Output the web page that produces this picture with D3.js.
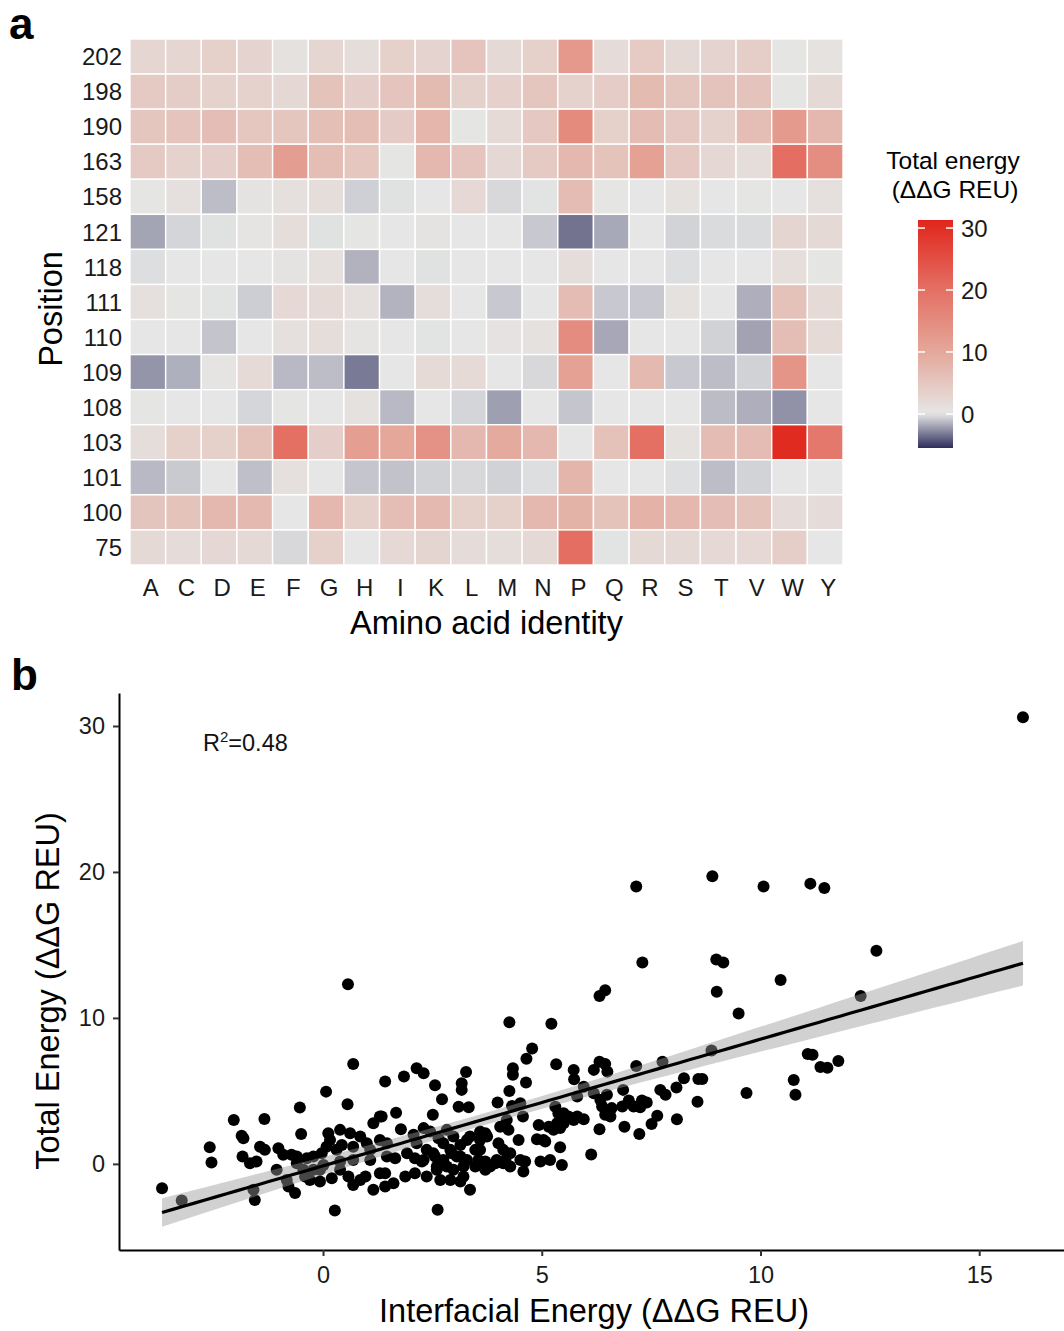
<!DOCTYPE html>
<html lang="en">
<head>
<meta charset="UTF-8">
<title>Total energy heatmap and energy correlation</title>
<script src="https://d3js.org/d3.v7.min.js"></script>
<style>
    body { margin: 0; background: #fff; }
    svg { display: block; font-family: "Liberation Sans", Arial, Helvetica, sans-serif; }
    .tick-label { fill: #1a1a1a; }
    .panel-label { font-weight: bold; font-size: 44px; fill: #000; }
</style>
</head>
<body>
<div id="chart"></div>
<script>
// ---- panel a: heatmap data (total energy, ddG REU) ----
const aminoAcids = ["A","C","D","E","F","G","H","I","K","L","M","N","P","Q","R","S","T","V","W","Y"];
const positions = ["202","198","190","163","158","121","118","111","110","109","108","103","101","100","75"];

const energy202 = [2.6, 2.6, 3.6, 3.0, 0.8, 2.6, 1.5, 3.6, 3.0, 5.5, 2.1, 3.6, 12.7, 1.6, 4.4, 2.1, 3.0, 3.9, 0.1, 0.7];
const energy198 = [4.6, 4.0, 3.2, 3.2, 2.5, 5.7, 3.8, 5.5, 7.0, 3.4, 3.5, 5.2, 3.3, 4.2, 7.0, 5.2, 5.6, 5.6, 0.1, 2.1];
const energy190 = [5.2, 5.5, 6.4, 5.0, 5.2, 6.3, 6.5, 4.3, 7.7, 0.1, 2.0, 4.8, 15.2, 3.6, 6.7, 4.8, 3.3, 6.6, 12.5, 7.4];
const energy163 = [4.5, 3.2, 3.8, 6.5, 11.8, 6.5, 5.0, 0.1, 7.5, 5.5, 2.5, 4.6, 7.5, 5.7, 11.2, 4.8, 2.5, 1.5, 20.3, 14.7];
const energy158 = [0.2, 1.1, -1.2, 0.5, 1.0, 1.5, -0.65, -0.15, 0.0, 2.2, -0.4, -0.1, 6.7, 0.2, 0.0, 0.8, 0.0, 0.2, 0.0, 1.0];
const energy121 = [-1.95, -0.5, -0.15, 0.3, 1.5, -0.15, 0.2, 0.0, 0.5, 0.0, 0.0, -0.86, -3.4, -1.8, 0.0, -0.56, -0.33, -0.33, 2.8, 2.1];
const energy118 = [-0.25, 0.0, 0.0, 0.0, 0.5, 1.0, -1.55, 0.0, -0.15, 0.0, 0.0, 0.0, 1.5, 0.0, 0.0, -0.25, 0.0, 0.0, 1.3, 0.2];
const energy111 = [1.0, 0.2, -0.1, -0.7, 2.2, 2.0, 1.0, -1.5, 1.5, 0.0, -0.85, 0.0, 6.7, -0.85, -0.85, 0.8, 0.0, -1.65, 5.9, 2.0];
const energy110 = [0.0, 0.0, -1.0, 0.0, 1.0, 1.5, 0.3, 0.0, -0.1, 0.0, 0.6, 0.8, 15.0, -1.85, 0.0, 0.0, -0.6, -2.0, 6.6, 2.0];
const energy109 = [-2.4, -1.6, 0.3, 2.0, -1.33, -1.2, -3.2, 0.0, 2.0, 2.0, 0.0, -0.4, 11.2, 0.0, 7.2, -0.86, -1.2, -0.6, 13.4, 0.0];
const energy108 = [0.1, 0.0, 0.0, -0.47, 0.2, 0.0, 0.8, -1.33, 0.0, -0.5, -2.1, 0.0, -0.95, 0.0, 0.0, 0.0, -1.25, -1.65, -2.5, 0.0];
const energy103 = [1.5, 3.6, 3.6, 5.9, 20.0, 3.8, 11.6, 10.2, 13.9, 7.5, 9.7, 7.4, 0.0, 6.0, 20.2, 0.8, 6.7, 6.7, 30.5, 18.5];
const energy101 = [-1.33, -0.83, 0.0, -1.15, 1.0, 0.0, -0.95, -1.05, -0.6, -0.4, -0.6, -0.25, 7.9, 0.0, 0.0, -0.2, -1.2, -0.56, 0.0, 0.0];
const energy100 = [5.4, 5.7, 7.4, 7.2, 0.0, 7.4, 3.6, 6.6, 7.2, 3.6, 3.6, 7.4, 8.2, 5.7, 8.4, 7.4, 6.4, 5.7, 1.6, 1.7];
const energy75  = [2.1, 1.6, 2.3, 2.1, -0.4, 3.6, 0.0, 2.2, 2.8, 1.6, 1.5, 2.1, 20.3, -0.1, 2.1, 2.1, 2.2, 2.2, 3.9, 0.0];

const energyRows = [energy202, energy198, energy190, energy163, energy158, energy121, energy118,
                    energy111, energy110, energy109, energy108, energy103, energy101, energy100, energy75];

// colour bar limits and tick values
const legendLimits = [-5.5, 31.3];
const legendTicks = [0, 10, 20, 30];

// ---- panel b: scatter data ----
const interfacialEnergy = [
  16.0, 7.16, 8.9, 10.07, 11.14, 11.46, 12.65, 7.3, 8.99, 9.15, 10.46, 0.57, 9.0, 12.29, 6.32, 6.45, 9.5, 5.22, 4.26, 4.78,
  4.65, 0.69, 8.88, 11.08, 11.19, 11.37, 11.53, 11.78, 8.25, 8.58, 8.67, 10.76, 10.8, 9.68, 8.56, 5.33, 4.34, 4.34, 4.64, 5.73,
  5.74, 6.19, 6.32, 6.45, 6.5, 7.16, 7.76, 8.08, 8.09, 7.71, 7.83, 7.64, 7.51, 7.23, 6.89, 6.32, 6.13, 6.84, 6.99, 7.1,
  7.25, 7.29, 7.4, 6.86, 6.19, 6.34, 6.49, 6.6, 6.38, 6.45, 6.57, 5.96, 5.81, 5.5, 5.61, 5.73, 5.81, 5.96, 5.31, 5.38,
  5.35, 5.42, 5.5, 4.93, 5.04, 5.16, 5.27, 5.42, 5.46, 4.97, 5.19, 4.89, 5.08, 4.24, 4.47, 4.28, 4.51, 4.62, 4.58, 3.99,
  4.26, 4.32, 4.57, 4.51, 4.2, 4.05, 4.01, 4.12, 3.71, 3.59, 3.48, 3.55, 3.67, 3.36, 3.1, 3.33, 3.17, 3.17, 3.27, 2.72,
  2.56, 2.51, 2.3, 2.83, 2.98, 3.14, 3.29, 2.91, 3.06, 3.29, 3.21, 2.98, 2.75, 2.6, 2.52, 2.37, 2.3, 2.68, 2.91, 3.21,
  3.14, 3.71, 3.82, 3.97, 4.12, 4.28, 1.42, 1.85, 2.14, 1.67, 1.34, 1.78, 2.07, 2.3, 2.45, 2.14, 2.64, 2.75, 1.46, 1.65,
  1.92, 2.1, 2.26, 2.56, 2.6, 2.83, 1.42, 1.61, 1.88, 2.1, 2.37, 2.62, 3.48, 3.71, 3.94, 4.17, 3.59, 3.36, 3.59, 3.75,
  2.94, 3.14, -3.68, -3.23, -2.59, -2.55, -2.04, -1.86, -1.82, -1.84, -1.67, -1.52, -1.44, -1.33, -1.34, -1.59, -1.56, -1.02, -0.91, -1.06,
  -0.83, -0.79, -0.64, -0.72, -0.6, -0.37, -0.22, -0.53, -0.5, 0.07, 0.12, 0.16, 0.08, -0.03, 0.31, 0.43, 0.62, 0.69, 0.85, 1.0,
  1.08, 0.56, 1.15, 1.3, -0.22, -0.07, -0.3, -0.07, 0.2, 0.39, 0.58, 0.69, 0.85, 0.97, 1.15, 1.42, 1.3, 0.27, -0.6, -0.45,
  -0.41, 0.01, 0.39, 0.69, 1.08, 0.39, 1.3, 1.46
];
const totalEnergy = [
  30.6, 19.0, 19.7, 19.0, 19.2, 18.9, 14.6, 13.8, 14.0, 13.8, 12.6, 12.3, 11.8, 11.5, 11.5, 11.9, 10.3, 9.6, 9.7, 7.9,
  7.2, 6.85, 7.76, 7.53, 7.47, 6.64, 6.58, 7.05, 5.87, 5.82, 5.82, 5.75, 4.73, 4.86, 4.25, 6.83, 6.55, 6.1, 5.57, 6.44,
  5.8, 6.44, 7.0, 6.85, 6.32, 6.71, 7.0, 5.23, 3.06, 5.07, 4.73, 3.29, 2.74, 2.05, 2.55, 2.38, 0.64, 3.93, 4.34, 3.93,
  3.88, 4.34, 4.2, 5.07, 4.84, 4.38, 4.73, 3.82, 3.93, 3.36, 3.24, 5.29, 4.61, 3.47, 3.24, 3.01, 3.24, 3.06, 3.92, 3.47,
  2.79, 2.45, 2.79, 2.67, 1.64, 2.55, 2.33, 1.14, -0.07, 0.16, 0.27, 1.69, 1.53, 2.33, 1.64, 0.73, 0.27, 0.16, -0.53, 4.2,
  5.0, 3.97, 3.24, 4.16, 3.01, 2.55, 1.42, 0.96, 2.1, 1.64, 0.96, 0.27, -0.18, -1.78, 3.92, 3.88, 5.53, 5.07, 6.3, 4.43,
  5.39, 3.36, 6.21, 2.33, 1.87, 1.3, 1.64, 0.96, 0.5, 0.27, -0.18, -0.41, 0.27, -0.41, 0.73, 0.96, 0.27, -1.1, -1.1, -0.87,
  -1.21, 0.16, -0.18, 0.27, 0.05, -0.18, 5.64, 5.98, 6.55, 3.51, 3.24, 2.38, 1.99, 2.45, 2.21, 1.42, 1.76, 1.42, 0.5, 0.39,
  0.73, 0.39, 0.16, 0.5, -0.18, -0.18, -0.64, -1.32, -0.87, -0.64, -0.87, -3.15, -0.18, -0.41, 0.05, 0.27, 0.96, 1.87, 2.21, 1.87,
  0.73, 0.5, -1.67, -2.51, 1.14, 0.09, 3.01, 1.92, 1.76, 0.5, 0.05, 0.16, 1.18, 0.96, 3.08, -1.78, -2.47, 1.07, 0.62, -0.41,
  -1.1, -1.55, -2.0, 0.62, 0.5, 0.39, 0.5, 3.86, 2.05, 4.95, 2.1, 1.64, 1.18, 0.73, 0.96, 1.3, 2.1, 1.18, 1.87, 1.42,
  0.96, 4.09, 2.79, 3.24, -0.41, -0.41, -1.1, -1.21, -0.98, -0.41, -0.87, -1.44, -1.1, -0.87, -1.78, -1.55, -0.64, -3.2, 0.05, -0.41,
  -0.87, -0.07, 0.16, 0.27, 0.27, 2.33, 1.64, 1.42
];
const rSquaredLabel = "0.48";
// y limits of panel b
const totalEnergyLimits = [-5.9, 32.26];

// ---- drawing ----
const W = 1064, H = 1331;
const svg = d3.select("#chart").append("svg")
    .attr("width", W)
    .attr("height", H);

// colour scale: navy -> light grey at 0 -> red
const color = d3.scaleLinear()
    .domain([legendLimits[0], 0, 10, 20, legendLimits[1]])
    .range(["#2c2c5c", "#e5e6e5", "#e4a89b", "#e47064", "#e0261c"])
    .clamp(true);

// ===== panel a =====
svg.append("text").attr("class", "panel-label").attr("x", 9).attr("y", 39).text("a");

const hx = d3.scaleBand().domain(aminoAcids).range([130, 843]).padding(0);
const hy = d3.scaleBand().domain(positions).range([39, 565]).padding(0);

const cells = [];
positions.forEach((p, i) => {
    aminoAcids.forEach((aa, j) => {
        cells.push({ pos: p, aa: aa, value: energyRows[i][j] });
    });
});

const heat = svg.append("g");
heat.selectAll("rect")
    .data(cells)
    .enter().append("rect")
    .attr("x", d => hx(d.aa))
    .attr("y", d => hy(d.pos))
    .attr("width", hx.bandwidth())
    .attr("height", hy.bandwidth())
    .attr("fill", d => color(d.value))
    .attr("stroke", "#fff")
    .attr("stroke-width", 1.4);

// axis labels (no tick marks in the original)
heat.selectAll(".row-label")
    .data(positions)
    .enter().append("text")
    .attr("class", "tick-label")
    .attr("x", 122)
    .attr("y", d => hy(d) + hy.bandwidth() / 2)
    .attr("dy", "0.36em")
    .attr("text-anchor", "end")
    .style("font-size", "24px")
    .text(d => d);

heat.selectAll(".col-label")
    .data(aminoAcids)
    .enter().append("text")
    .attr("class", "tick-label")
    .attr("x", d => hx(d) + hx.bandwidth() / 2 + 3)
    .attr("y", 596)
    .attr("text-anchor", "middle")
    .style("font-size", "24px")
    .text(d => d);

svg.append("text")
    .attr("x", (130 + 843) / 2)
    .attr("y", 634)
    .attr("text-anchor", "middle")
    .style("font-size", "32.5px")
    .text("Amino acid identity");

svg.append("text")
    .attr("transform", "translate(62,309) rotate(-90)")
    .attr("text-anchor", "middle")
    .style("font-size", "32.5px")
    .text("Position");

// colour legend
const lg = svg.append("g");
const ly = d3.scaleLinear().domain(legendLimits).range([448, 220]);
const defs = svg.append("defs");
const grad = defs.append("linearGradient")
    .attr("id", "energyGrad")
    .attr("x1", 0).attr("y1", 1).attr("x2", 0).attr("y2", 0);
d3.range(0, 1.0001, 0.02).forEach(t => {
    const v = legendLimits[0] + t * (legendLimits[1] - legendLimits[0]);
    grad.append("stop").attr("offset", t).attr("stop-color", color(v));
});
lg.append("rect")
    .attr("x", 918).attr("y", 220)
    .attr("width", 35).attr("height", 228)
    .attr("fill", "url(#energyGrad)");
legendTicks.forEach(t => {
    lg.append("line").attr("x1", 918).attr("x2", 925).attr("y1", ly(t)).attr("y2", ly(t))
        .attr("stroke", "#fff").attr("stroke-width", 1.5);
    lg.append("line").attr("x1", 946).attr("x2", 953).attr("y1", ly(t)).attr("y2", ly(t))
        .attr("stroke", "#fff").attr("stroke-width", 1.5);
});
lg.selectAll(".leg-label")
    .data(legendTicks)
    .enter().append("text")
    .attr("class", "tick-label")
    .attr("x", 961)
    .attr("y", d => ly(d))
    .attr("dy", "0.36em")
    .style("font-size", "24px")
    .text(d => d);
lg.append("text").attr("x", 953).attr("y", 169).attr("text-anchor", "middle")
    .style("font-size", "24.5px").text("Total energy");
lg.append("text").attr("x", 955).attr("y", 198).attr("text-anchor", "middle")
    .style("font-size", "24.5px").text("(ΔΔG REU)");

// ===== panel b =====
svg.append("text").attr("class", "panel-label").attr("x", 11).attr("y", 690).text("b");

const pts = interfacialEnergy.map((x, i) => ({ x: x, y: totalEnergy[i] }));

// linear fit with 95% confidence band
const n = pts.length;
const mx = d3.mean(pts, d => d.x), my = d3.mean(pts, d => d.y);
const sxx = d3.sum(pts, d => (d.x - mx) ** 2);
const sxy = d3.sum(pts, d => (d.x - mx) * (d.y - my));
const slope = sxy / sxx, intercept = my - slope * mx;
const sse = d3.sum(pts, d => (d.y - intercept - slope * d.x) ** 2);
const sRes = Math.sqrt(sse / (n - 2));
const tCrit = 1.97;
const xExt = d3.extent(pts, d => d.x);
const band = d3.range(0, 81).map(i => {
    const x = xExt[0] + i / 80 * (xExt[1] - xExt[0]);
    const fit = intercept + slope * x;
    const se = sRes * Math.sqrt(1 / n + (x - mx) ** 2 / sxx);
    return { x: x, fit: fit, lo: fit - tCrit * se, hi: fit + tCrit * se };
});

// ggplot-like 5% expansion on x
const xPad = (xExt[1] - xExt[0]) * 0.05;
const sx = d3.scaleLinear().domain([xExt[0] - xPad, xExt[1] + xPad]).range([119, 1066]);
const sy = d3.scaleLinear().domain(totalEnergyLimits).range([1250, 693]);

const sc = svg.append("g");
sc.selectAll("circle")
    .data(pts)
    .enter().append("circle")
    .attr("cx", d => sx(d.x))
    .attr("cy", d => sy(d.y))
    .attr("r", 6)
    .attr("fill", "#000");

sc.append("path")
    .datum(band)
    .attr("fill", "#999")
    .attr("fill-opacity", 0.45)
    .attr("d", d3.area().x(d => sx(d.x)).y0(d => sy(d.lo)).y1(d => sy(d.hi)));

sc.append("path")
    .datum(band)
    .attr("fill", "none")
    .attr("stroke", "#000")
    .attr("stroke-width", 3.2)
    .attr("d", d3.line().x(d => sx(d.x)).y(d => sy(d.fit)));

// axes
const xAxis = svg.append("g")
    .attr("transform", "translate(0,1250)")
    .call(d3.axisBottom(sx).tickValues([0, 5, 10, 15]).tickSize(6).tickSizeOuter(0).tickPadding(10));
const yAxis = svg.append("g")
    .attr("transform", "translate(119,0)")
    .call(d3.axisLeft(sy).tickValues([0, 10, 20, 30]).tickSize(6).tickSizeOuter(0).tickPadding(8));
[xAxis, yAxis].forEach(a => {
    a.select(".domain").attr("stroke", "#000").attr("stroke-width", 2);
    a.selectAll(".tick line").attr("stroke", "#333").attr("stroke-width", 2);
    a.selectAll(".tick text")
        .attr("class", "tick-label")
        .style("font-size", "23.5px")
        .style("font-family", "\"Liberation Sans\", Arial, sans-serif");
});

svg.append("text")
    .attr("x", 594)
    .attr("y", 1322)
    .attr("text-anchor", "middle")
    .style("font-size", "32.5px")
    .text("Interfacial Energy (ΔΔG REU)");

svg.append("text")
    .attr("transform", "translate(59,991) rotate(-90)")
    .attr("text-anchor", "middle")
    .style("font-size", "32.5px")
    .text("Total Energy (ΔΔG REU)");

const r2 = svg.append("text")
    .attr("x", 203)
    .attr("y", 751)
    .style("font-size", "23.5px")
    .attr("fill", "#111");
r2.append("tspan").text("R");
r2.append("tspan").attr("dy", -9).style("font-size", "15px").text("2");
r2.append("tspan").attr("dy", 9).text("=" + rSquaredLabel);
</script>
</body>
</html>
